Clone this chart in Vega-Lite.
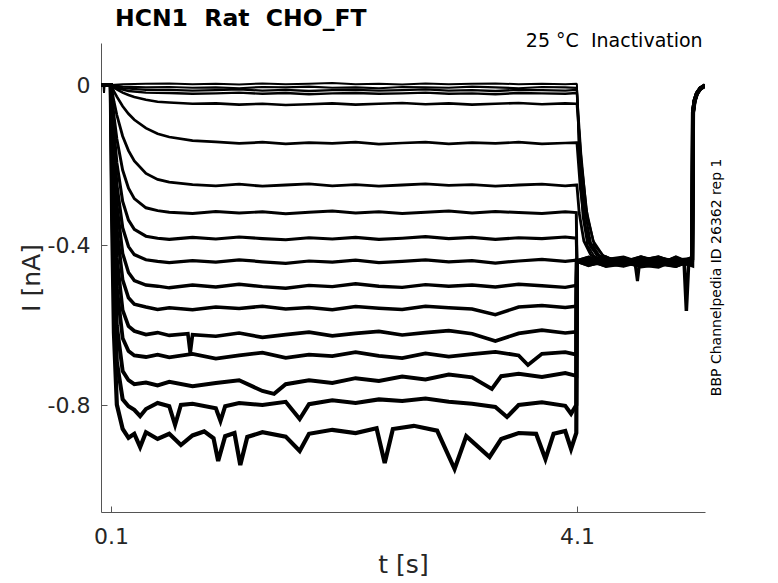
{
  "$schema": "https://vega.github.io/schema/vega-lite/v6.json",
  "width": 604,
  "height": 469,
  "autosize": {"type": "none"},
  "padding": {"left": 101, "top": 43, "right": 73, "bottom": 71},
  "background": "white",
  "config": {"view": {"stroke": null}, "font": "DejaVu Sans"},
  "title": {
    "text": "HCN1\u00a0\u00a0Rat\u00a0\u00a0CHO_FT",
    "anchor": "start",
    "frame": "group",
    "dx": 14,
    "offset": 2,
    "fontSize": 23.5,
    "fontWeight": "bold",
    "font": "DejaVu Sans",
    "color": "black"
  },
  "layer": [
    {
      "data": {"values": [
        {"k":1,"t":0.014,"i":0},{"k":1,"t":0.035,"i":0},{"k":1,"t":0.04,"i":-0.02},{"k":1,"t":0.045,"i":0},{"k":1,"t":0.098,"i":0},{"k":1,"t":0.2,"i":0.002},{"k":1,"t":0.4,"i":0.003},
        {"k":1,"t":0.6,"i":0.004},{"k":1,"t":0.8,"i":0.002},{"k":1,"t":1.0,"i":0.003},{"k":1,"t":1.2,"i":0.001},{"k":1,"t":1.4,"i":0.004},{"k":1,"t":1.6,"i":0.002},{"k":1,"t":1.8,"i":0.003},{"k":1,"t":2.0,"i":0.005},{"k":1,"t":2.2,"i":0.002},{"k":1,"t":2.4,"i":0.003},{"k":1,"t":2.6,"i":0.001},{"k":1,"t":2.8,"i":0.004},{"k":1,"t":3.0,"i":0.002},{"k":1,"t":3.2,"i":0.003},{"k":1,"t":3.4,"i":0.004},{"k":1,"t":3.6,"i":0.002},{"k":1,"t":3.8,"i":0.003},{"k":1,"t":4.0,"i":0.002},{"k":1,"t":4.095,"i":0.003},
        {"k":1,"t":4.1,"i":0.002},{"k":1,"t":4.12,"i":-0.2},{"k":1,"t":4.15,"i":-0.33},{"k":1,"t":4.19,"i":-0.4},{"k":1,"t":4.25,"i":-0.428},{"k":1,"t":4.35,"i":-0.441},{"k":1,"t":4.5,"i":-0.433},{"k":1,"t":4.65,"i":-0.449},{"k":1,"t":4.8,"i":-0.436},{"k":1,"t":4.95,"i":-0.446},{"k":1,"t":5.09,"i":-0.435},{"k":1,"t":5.097,"i":-0.068},{"k":1,"t":5.11,"i":-0.04},{"k":1,"t":5.13,"i":-0.022},{"k":1,"t":5.16,"i":-0.009},{"k":1,"t":5.2,"i":-0.002},

        {"k":2,"t":0.014,"i":0},{"k":2,"t":0.098,"i":0},{"k":2,"t":0.2,"i":-0.004},{"k":2,"t":0.4,"i":-0.006},
        {"k":2,"t":0.6,"i":-0.005},{"k":2,"t":0.8,"i":-0.007},{"k":2,"t":1.0,"i":-0.006},{"k":2,"t":1.2,"i":-0.008},{"k":2,"t":1.4,"i":-0.005},{"k":2,"t":1.6,"i":-0.006},{"k":2,"t":1.8,"i":-0.004},{"k":2,"t":2.0,"i":-0.007},{"k":2,"t":2.2,"i":-0.006},{"k":2,"t":2.4,"i":-0.008},{"k":2,"t":2.6,"i":-0.005},{"k":2,"t":2.8,"i":-0.006},{"k":2,"t":3.0,"i":-0.007},{"k":2,"t":3.2,"i":-0.004},{"k":2,"t":3.4,"i":-0.006},{"k":2,"t":3.6,"i":-0.008},{"k":2,"t":3.8,"i":-0.005},{"k":2,"t":4.0,"i":-0.006},{"k":2,"t":4.095,"i":-0.007},
        {"k":2,"t":4.1,"i":-0.006},{"k":2,"t":4.125,"i":-0.19},{"k":2,"t":4.16,"i":-0.33},{"k":2,"t":4.2,"i":-0.395},{"k":2,"t":4.27,"i":-0.426},{"k":2,"t":4.37,"i":-0.437},{"k":2,"t":4.5,"i":-0.447},{"k":2,"t":4.65,"i":-0.433},{"k":2,"t":4.8,"i":-0.448},{"k":2,"t":4.95,"i":-0.434},{"k":2,"t":5.09,"i":-0.445},{"k":2,"t":5.097,"i":-0.065},{"k":2,"t":5.11,"i":-0.038},{"k":2,"t":5.13,"i":-0.021},{"k":2,"t":5.16,"i":-0.008},{"k":2,"t":5.2,"i":0.0},

        {"k":3,"t":0.014,"i":0},{"k":3,"t":0.098,"i":0},{"k":3,"t":0.2,"i":-0.008},{"k":3,"t":0.4,"i":-0.012},
        {"k":3,"t":0.6,"i":-0.012},{"k":3,"t":0.8,"i":-0.014},{"k":3,"t":1.0,"i":-0.013},{"k":3,"t":1.2,"i":-0.011},{"k":3,"t":1.4,"i":-0.014},{"k":3,"t":1.6,"i":-0.012},{"k":3,"t":1.8,"i":-0.015},{"k":3,"t":2.0,"i":-0.013},{"k":3,"t":2.2,"i":-0.012},{"k":3,"t":2.4,"i":-0.014},{"k":3,"t":2.6,"i":-0.013},{"k":3,"t":2.8,"i":-0.011},{"k":3,"t":3.0,"i":-0.014},{"k":3,"t":3.2,"i":-0.013},{"k":3,"t":3.4,"i":-0.015},{"k":3,"t":3.6,"i":-0.012},{"k":3,"t":3.8,"i":-0.013},{"k":3,"t":4.0,"i":-0.014},{"k":3,"t":4.095,"i":-0.012},
        {"k":3,"t":4.1,"i":-0.013},{"k":3,"t":4.13,"i":-0.18},{"k":3,"t":4.17,"i":-0.32},{"k":3,"t":4.22,"i":-0.395},{"k":3,"t":4.29,"i":-0.425},{"k":3,"t":4.4,"i":-0.443},{"k":3,"t":4.5,"i":-0.437},{"k":3,"t":4.65,"i":-0.452},{"k":3,"t":4.8,"i":-0.431},{"k":3,"t":4.95,"i":-0.45},{"k":3,"t":5.09,"i":-0.44},{"k":3,"t":5.097,"i":-0.07},{"k":3,"t":5.11,"i":-0.042},{"k":3,"t":5.13,"i":-0.023},{"k":3,"t":5.16,"i":-0.01},{"k":3,"t":5.2,"i":-0.003},

        {"k":4,"t":0.014,"i":0},{"k":4,"t":0.098,"i":0},{"k":4,"t":0.15,"i":-0.008},{"k":4,"t":0.25,"i":-0.015},{"k":4,"t":0.4,"i":-0.019},
        {"k":4,"t":0.6,"i":-0.02},{"k":4,"t":0.8,"i":-0.022},{"k":4,"t":1.0,"i":-0.021},{"k":4,"t":1.2,"i":-0.019},{"k":4,"t":1.4,"i":-0.022},{"k":4,"t":1.6,"i":-0.02},{"k":4,"t":1.8,"i":-0.023},{"k":4,"t":2.0,"i":-0.021},{"k":4,"t":2.2,"i":-0.02},{"k":4,"t":2.4,"i":-0.022},{"k":4,"t":2.6,"i":-0.021},{"k":4,"t":2.8,"i":-0.019},{"k":4,"t":3.0,"i":-0.022},{"k":4,"t":3.2,"i":-0.021},{"k":4,"t":3.4,"i":-0.023},{"k":4,"t":3.6,"i":-0.02},{"k":4,"t":3.8,"i":-0.021},{"k":4,"t":4.0,"i":-0.022},{"k":4,"t":4.095,"i":-0.02},
        {"k":4,"t":4.1,"i":-0.021},{"k":4,"t":4.135,"i":-0.17},{"k":4,"t":4.18,"i":-0.31},{"k":4,"t":4.24,"i":-0.39},{"k":4,"t":4.32,"i":-0.425},{"k":4,"t":4.42,"i":-0.44},{"k":4,"t":4.5,"i":-0.45},{"k":4,"t":4.65,"i":-0.435},{"k":4,"t":4.8,"i":-0.447},{"k":4,"t":4.95,"i":-0.43},{"k":4,"t":5.09,"i":-0.448},{"k":4,"t":5.097,"i":-0.066},{"k":4,"t":5.11,"i":-0.039},{"k":4,"t":5.13,"i":-0.02},{"k":4,"t":5.16,"i":-0.007},{"k":4,"t":5.2,"i":-0.001},

        {"k":5,"t":0.014,"i":0},{"k":5,"t":0.098,"i":0},{"k":5,"t":0.125,"i":-0.006},{"k":5,"t":0.15,"i":-0.011},{"k":5,"t":0.2,"i":-0.019},{"k":5,"t":0.25,"i":-0.025},{"k":5,"t":0.3,"i":-0.03},{"k":5,"t":0.4,"i":-0.037},{"k":5,"t":0.5,"i":-0.042},
        {"k":5,"t":0.6,"i":-0.044},{"k":5,"t":0.8,"i":-0.047},{"k":5,"t":1.0,"i":-0.046},{"k":5,"t":1.2,"i":-0.049},{"k":5,"t":1.4,"i":-0.047},{"k":5,"t":1.6,"i":-0.05},{"k":5,"t":1.8,"i":-0.048},{"k":5,"t":2.0,"i":-0.046},{"k":5,"t":2.2,"i":-0.049},{"k":5,"t":2.4,"i":-0.047},{"k":5,"t":2.6,"i":-0.045},{"k":5,"t":2.8,"i":-0.048},{"k":5,"t":3.0,"i":-0.046},{"k":5,"t":3.2,"i":-0.049},{"k":5,"t":3.4,"i":-0.047},{"k":5,"t":3.6,"i":-0.045},{"k":5,"t":3.8,"i":-0.048},{"k":5,"t":4.0,"i":-0.046},{"k":5,"t":4.095,"i":-0.047},
        {"k":5,"t":4.1,"i":-0.047},{"k":5,"t":4.14,"i":-0.2},{"k":5,"t":4.19,"i":-0.33},{"k":5,"t":4.25,"i":-0.4},{"k":5,"t":4.33,"i":-0.428},{"k":5,"t":4.45,"i":-0.44},{"k":5,"t":4.5,"i":-0.431},{"k":5,"t":4.65,"i":-0.446},{"k":5,"t":4.8,"i":-0.452},{"k":5,"t":4.95,"i":-0.437},{"k":5,"t":5.09,"i":-0.433},{"k":5,"t":5.097,"i":-0.069},{"k":5,"t":5.11,"i":-0.041},{"k":5,"t":5.13,"i":-0.022},{"k":5,"t":5.16,"i":-0.009},{"k":5,"t":5.2,"i":-0.002},

        {"k":6,"t":0.014,"i":0},{"k":6,"t":0.098,"i":0},{"k":6,"t":0.11,"i":-0.006},{"k":6,"t":0.125,"i":-0.016},{"k":6,"t":0.15,"i":-0.029},{"k":6,"t":0.2,"i":-0.053},{"k":6,"t":0.25,"i":-0.072},{"k":6,"t":0.3,"i":-0.087},{"k":6,"t":0.4,"i":-0.108},{"k":6,"t":0.5,"i":-0.122},
        {"k":6,"t":0.6,"i":-0.13},{"k":6,"t":0.8,"i":-0.139},{"k":6,"t":1.0,"i":-0.142},{"k":6,"t":1.2,"i":-0.146},{"k":6,"t":1.4,"i":-0.143},{"k":6,"t":1.6,"i":-0.147},{"k":6,"t":1.8,"i":-0.144},{"k":6,"t":2.0,"i":-0.146},{"k":6,"t":2.2,"i":-0.143},{"k":6,"t":2.4,"i":-0.148},{"k":6,"t":2.6,"i":-0.145},{"k":6,"t":2.8,"i":-0.143},{"k":6,"t":3.0,"i":-0.147},{"k":6,"t":3.2,"i":-0.144},{"k":6,"t":3.4,"i":-0.146},{"k":6,"t":3.6,"i":-0.143},{"k":6,"t":3.8,"i":-0.147},{"k":6,"t":4.0,"i":-0.145},{"k":6,"t":4.095,"i":-0.144},
        {"k":6,"t":4.1,"i":-0.144},{"k":6,"t":4.13,"i":-0.26},{"k":6,"t":4.17,"i":-0.35},{"k":6,"t":4.22,"i":-0.405},{"k":6,"t":4.3,"i":-0.43},{"k":6,"t":4.4,"i":-0.445},{"k":6,"t":4.5,"i":-0.444},{"k":6,"t":4.65,"i":-0.429},{"k":6,"t":4.8,"i":-0.44},{"k":6,"t":4.95,"i":-0.453},{"k":6,"t":5.09,"i":-0.441},{"k":6,"t":5.097,"i":-0.067},{"k":6,"t":5.11,"i":-0.04},{"k":6,"t":5.13,"i":-0.021},{"k":6,"t":5.16,"i":-0.008},{"k":6,"t":5.2,"i":-0.001},

        {"k":7,"t":0.014,"i":0},{"k":7,"t":0.098,"i":0},{"k":7,"t":0.11,"i":-0.017},{"k":7,"t":0.125,"i":-0.041},{"k":7,"t":0.15,"i":-0.075},{"k":7,"t":0.2,"i":-0.128},{"k":7,"t":0.25,"i":-0.164},{"k":7,"t":0.3,"i":-0.19},{"k":7,"t":0.4,"i":-0.221},{"k":7,"t":0.5,"i":-0.236},
        {"k":7,"t":0.6,"i":-0.243},{"k":7,"t":0.8,"i":-0.249},{"k":7,"t":1.0,"i":-0.252},{"k":7,"t":1.2,"i":-0.248},{"k":7,"t":1.4,"i":-0.253},{"k":7,"t":1.6,"i":-0.25},{"k":7,"t":1.8,"i":-0.247},{"k":7,"t":2.0,"i":-0.252},{"k":7,"t":2.2,"i":-0.249},{"k":7,"t":2.4,"i":-0.253},{"k":7,"t":2.6,"i":-0.25},{"k":7,"t":2.8,"i":-0.247},{"k":7,"t":3.0,"i":-0.251},{"k":7,"t":3.2,"i":-0.249},{"k":7,"t":3.4,"i":-0.253},{"k":7,"t":3.6,"i":-0.25},{"k":7,"t":3.8,"i":-0.248},{"k":7,"t":4.0,"i":-0.252},{"k":7,"t":4.095,"i":-0.25},
        {"k":7,"t":4.1,"i":-0.25},{"k":7,"t":4.12,"i":-0.32},{"k":7,"t":4.16,"i":-0.39},{"k":7,"t":4.22,"i":-0.425},{"k":7,"t":4.3,"i":-0.437},{"k":7,"t":4.4,"i":-0.441},{"k":7,"t":4.5,"i":-0.451},{"k":7,"t":4.65,"i":-0.438},{"k":7,"t":4.8,"i":-0.43},{"k":7,"t":4.95,"i":-0.445},{"k":7,"t":5.09,"i":-0.45},{"k":7,"t":5.097,"i":-0.066},{"k":7,"t":5.11,"i":-0.039},{"k":7,"t":5.13,"i":-0.021},{"k":7,"t":5.16,"i":-0.008},{"k":7,"t":5.2,"i":0.0},

        {"k":8,"t":0.014,"i":0},{"k":8,"t":0.098,"i":0},{"k":8,"t":0.11,"i":-0.033},{"k":8,"t":0.125,"i":-0.077},{"k":8,"t":0.15,"i":-0.135},{"k":8,"t":0.2,"i":-0.213},{"k":8,"t":0.25,"i":-0.258},{"k":8,"t":0.3,"i":-0.284},{"k":8,"t":0.4,"i":-0.307},{"k":8,"t":0.5,"i":-0.314},
        {"k":8,"t":0.6,"i":-0.318},{"k":8,"t":0.8,"i":-0.321},{"k":8,"t":1.0,"i":-0.316},{"k":8,"t":1.2,"i":-0.32},{"k":8,"t":1.4,"i":-0.317},{"k":8,"t":1.6,"i":-0.322},{"k":8,"t":1.8,"i":-0.318},{"k":8,"t":2.0,"i":-0.315},{"k":8,"t":2.2,"i":-0.32},{"k":8,"t":2.4,"i":-0.317},{"k":8,"t":2.6,"i":-0.321},{"k":8,"t":2.8,"i":-0.318},{"k":8,"t":3.0,"i":-0.315},{"k":8,"t":3.2,"i":-0.32},{"k":8,"t":3.4,"i":-0.316},{"k":8,"t":3.6,"i":-0.319},{"k":8,"t":3.8,"i":-0.321},{"k":8,"t":4.0,"i":-0.317},{"k":8,"t":4.095,"i":-0.319},
        {"k":8,"t":4.1,"i":-0.44},{"k":8,"t":4.2,"i":-0.448},{"k":8,"t":4.35,"i":-0.433},{"k":8,"t":4.5,"i":-0.446},{"k":8,"t":4.65,"i":-0.452},{"k":8,"t":4.8,"i":-0.435},{"k":8,"t":4.95,"i":-0.447},{"k":8,"t":5.09,"i":-0.432},{"k":8,"t":5.097,"i":-0.068},{"k":8,"t":5.11,"i":-0.04},{"k":8,"t":5.13,"i":-0.022},{"k":8,"t":5.16,"i":-0.009},{"k":8,"t":5.2,"i":-0.002},

        {"k":9,"t":0.014,"i":0},{"k":9,"t":0.098,"i":0},{"k":9,"t":0.11,"i":-0.051},{"k":9,"t":0.125,"i":-0.115},{"k":9,"t":0.15,"i":-0.195},{"k":9,"t":0.2,"i":-0.291},{"k":9,"t":0.25,"i":-0.338},{"k":9,"t":0.3,"i":-0.361},{"k":9,"t":0.4,"i":-0.378},{"k":9,"t":0.5,"i":-0.383},
        {"k":9,"t":0.6,"i":-0.386},{"k":9,"t":0.8,"i":-0.381},{"k":9,"t":1.0,"i":-0.385},{"k":9,"t":1.2,"i":-0.38},{"k":9,"t":1.4,"i":-0.384},{"k":9,"t":1.6,"i":-0.387},{"k":9,"t":1.8,"i":-0.382},{"k":9,"t":2.0,"i":-0.385},{"k":9,"t":2.2,"i":-0.381},{"k":9,"t":2.4,"i":-0.386},{"k":9,"t":2.6,"i":-0.383},{"k":9,"t":2.8,"i":-0.379},{"k":9,"t":3.0,"i":-0.384},{"k":9,"t":3.2,"i":-0.381},{"k":9,"t":3.4,"i":-0.386},{"k":9,"t":3.6,"i":-0.382},{"k":9,"t":3.8,"i":-0.384},{"k":9,"t":4.0,"i":-0.38},{"k":9,"t":4.095,"i":-0.383},
        {"k":9,"t":4.1,"i":-0.44},{"k":9,"t":4.2,"i":-0.435},{"k":9,"t":4.35,"i":-0.45},{"k":9,"t":4.5,"i":-0.434},{"k":9,"t":4.6,"i":-0.447},{"k":9,"t":4.62,"i":-0.49},{"k":9,"t":4.64,"i":-0.44},{"k":9,"t":4.8,"i":-0.449},{"k":9,"t":4.95,"i":-0.43},{"k":9,"t":5.09,"i":-0.447},{"k":9,"t":5.097,"i":-0.065},{"k":9,"t":5.11,"i":-0.038},{"k":9,"t":5.13,"i":-0.02},{"k":9,"t":5.16,"i":-0.008},{"k":9,"t":5.2,"i":-0.001},

        {"k":10,"t":0.014,"i":0},{"k":10,"t":0.098,"i":0},{"k":10,"t":0.11,"i":-0.068},{"k":10,"t":0.125,"i":-0.15},{"k":10,"t":0.15,"i":-0.249},{"k":10,"t":0.2,"i":-0.357},{"k":10,"t":0.25,"i":-0.404},{"k":10,"t":0.3,"i":-0.424},{"k":10,"t":0.4,"i":-0.437},{"k":10,"t":0.5,"i":-0.441},
        {"k":10,"t":0.6,"i":-0.444},{"k":10,"t":0.8,"i":-0.439},{"k":10,"t":1.0,"i":-0.443},{"k":10,"t":1.2,"i":-0.437},{"k":10,"t":1.4,"i":-0.442},{"k":10,"t":1.6,"i":-0.446},{"k":10,"t":1.8,"i":-0.44},{"k":10,"t":2.0,"i":-0.443},{"k":10,"t":2.2,"i":-0.438},{"k":10,"t":2.4,"i":-0.444},{"k":10,"t":2.6,"i":-0.441},{"k":10,"t":2.8,"i":-0.437},{"k":10,"t":3.0,"i":-0.442},{"k":10,"t":3.2,"i":-0.439},{"k":10,"t":3.4,"i":-0.445},{"k":10,"t":3.6,"i":-0.44},{"k":10,"t":3.8,"i":-0.436},{"k":10,"t":4.0,"i":-0.441},{"k":10,"t":4.095,"i":-0.438},
        {"k":10,"t":4.1,"i":-0.44},{"k":10,"t":4.2,"i":-0.445},{"k":10,"t":4.35,"i":-0.43},{"k":10,"t":4.5,"i":-0.451},{"k":10,"t":4.65,"i":-0.436},{"k":10,"t":4.8,"i":-0.445},{"k":10,"t":4.95,"i":-0.453},{"k":10,"t":5.09,"i":-0.437},{"k":10,"t":5.097,"i":-0.07},{"k":10,"t":5.11,"i":-0.041},{"k":10,"t":5.13,"i":-0.023},{"k":10,"t":5.16,"i":-0.01},{"k":10,"t":5.2,"i":-0.002},

        {"k":11,"t":0.014,"i":0},{"k":11,"t":0.098,"i":0},{"k":11,"t":0.11,"i":-0.083},{"k":11,"t":0.125,"i":-0.183},{"k":11,"t":0.15,"i":-0.3},{"k":11,"t":0.2,"i":-0.421},{"k":11,"t":0.25,"i":-0.469},{"k":11,"t":0.3,"i":-0.489},{"k":11,"t":0.4,"i":-0.5},{"k":11,"t":0.5,"i":-0.503},
        {"k":11,"t":0.6,"i":-0.507},{"k":11,"t":0.8,"i":-0.5},{"k":11,"t":1.0,"i":-0.505},{"k":11,"t":1.2,"i":-0.498},{"k":11,"t":1.4,"i":-0.504},{"k":11,"t":1.6,"i":-0.508},{"k":11,"t":1.8,"i":-0.501},{"k":11,"t":2.0,"i":-0.504},{"k":11,"t":2.2,"i":-0.497},{"k":11,"t":2.4,"i":-0.503},{"k":11,"t":2.6,"i":-0.506},{"k":11,"t":2.8,"i":-0.499},{"k":11,"t":3.0,"i":-0.503},{"k":11,"t":3.2,"i":-0.5},{"k":11,"t":3.4,"i":-0.505},{"k":11,"t":3.6,"i":-0.498},{"k":11,"t":3.8,"i":-0.502},{"k":11,"t":4.0,"i":-0.506},{"k":11,"t":4.095,"i":-0.501},
        {"k":11,"t":4.1,"i":-0.44},{"k":11,"t":4.2,"i":-0.431},{"k":11,"t":4.35,"i":-0.447},{"k":11,"t":4.5,"i":-0.44},{"k":11,"t":4.65,"i":-0.448},{"k":11,"t":4.8,"i":-0.432},{"k":11,"t":4.95,"i":-0.441},{"k":11,"t":5.09,"i":-0.45},{"k":11,"t":5.097,"i":-0.067},{"k":11,"t":5.11,"i":-0.039},{"k":11,"t":5.13,"i":-0.021},{"k":11,"t":5.16,"i":-0.008},{"k":11,"t":5.2,"i":-0.001},

        {"k":12,"t":0.014,"i":0},{"k":12,"t":0.098,"i":0},{"k":12,"t":0.11,"i":-0.104},{"k":12,"t":0.125,"i":-0.226},{"k":12,"t":0.15,"i":-0.36},{"k":12,"t":0.2,"i":-0.487},{"k":12,"t":0.25,"i":-0.532},{"k":12,"t":0.3,"i":-0.548},{"k":12,"t":0.4,"i":-0.555},{"k":12,"t":0.5,"i":-0.561},
        {"k":12,"t":0.6,"i":-0.557},{"k":12,"t":0.8,"i":-0.562},{"k":12,"t":1.0,"i":-0.555},{"k":12,"t":1.2,"i":-0.559},{"k":12,"t":1.4,"i":-0.553},{"k":12,"t":1.6,"i":-0.56},{"k":12,"t":1.8,"i":-0.556},{"k":12,"t":2.0,"i":-0.562},{"k":12,"t":2.2,"i":-0.554},{"k":12,"t":2.4,"i":-0.558},{"k":12,"t":2.6,"i":-0.561},{"k":12,"t":2.8,"i":-0.553},{"k":12,"t":3.0,"i":-0.557},{"k":12,"t":3.2,"i":-0.56},{"k":12,"t":3.4,"i":-0.574},{"k":12,"t":3.6,"i":-0.555},{"k":12,"t":3.8,"i":-0.551},{"k":12,"t":4.0,"i":-0.556},{"k":12,"t":4.095,"i":-0.553},
        {"k":12,"t":4.1,"i":-0.44},{"k":12,"t":4.2,"i":-0.451},{"k":12,"t":4.35,"i":-0.437},{"k":12,"t":4.5,"i":-0.431},{"k":12,"t":4.65,"i":-0.445},{"k":12,"t":4.8,"i":-0.452},{"k":12,"t":4.95,"i":-0.435},{"k":12,"t":5.02,"i":-0.44},{"k":12,"t":5.04,"i":-0.565},{"k":12,"t":5.06,"i":-0.442},{"k":12,"t":5.09,"i":-0.44},{"k":12,"t":5.097,"i":-0.066},{"k":12,"t":5.11,"i":-0.04},{"k":12,"t":5.13,"i":-0.022},{"k":12,"t":5.16,"i":-0.009},{"k":12,"t":5.2,"i":-0.002},

        {"k":13,"t":0.014,"i":0},{"k":13,"t":0.098,"i":0},{"k":13,"t":0.11,"i":-0.131},{"k":13,"t":0.125,"i":-0.278},{"k":13,"t":0.15,"i":-0.431},{"k":13,"t":0.2,"i":-0.563},{"k":13,"t":0.25,"i":-0.603},{"k":13,"t":0.3,"i":-0.615},{"k":13,"t":0.4,"i":-0.624},{"k":13,"t":0.5,"i":-0.619},
        {"k":13,"t":0.6,"i":-0.626},{"k":13,"t":0.76,"i":-0.622},{"k":13,"t":0.78,"i":-0.67},{"k":13,"t":0.8,"i":-0.624},{"k":13,"t":1.0,"i":-0.628},{"k":13,"t":1.2,"i":-0.62},{"k":13,"t":1.4,"i":-0.631},{"k":13,"t":1.6,"i":-0.624},{"k":13,"t":1.8,"i":-0.618},{"k":13,"t":2.0,"i":-0.627},{"k":13,"t":2.2,"i":-0.621},{"k":13,"t":2.4,"i":-0.616},{"k":13,"t":2.6,"i":-0.625},{"k":13,"t":2.8,"i":-0.619},{"k":13,"t":3.0,"i":-0.614},{"k":13,"t":3.2,"i":-0.622},{"k":13,"t":3.4,"i":-0.64},{"k":13,"t":3.6,"i":-0.621},{"k":13,"t":3.8,"i":-0.613},{"k":13,"t":4.0,"i":-0.62},{"k":13,"t":4.095,"i":-0.617},
        {"k":13,"t":4.1,"i":-0.44},{"k":13,"t":4.2,"i":-0.436},{"k":13,"t":4.35,"i":-0.453},{"k":13,"t":4.5,"i":-0.447},{"k":13,"t":4.65,"i":-0.432},{"k":13,"t":4.8,"i":-0.441},{"k":13,"t":4.95,"i":-0.449},{"k":13,"t":5.09,"i":-0.431},{"k":13,"t":5.097,"i":-0.069},{"k":13,"t":5.11,"i":-0.041},{"k":13,"t":5.13,"i":-0.022},{"k":13,"t":5.16,"i":-0.009},{"k":13,"t":5.2,"i":-0.002},

        {"k":14,"t":0.014,"i":0},{"k":14,"t":0.098,"i":0},{"k":14,"t":0.11,"i":-0.164},{"k":14,"t":0.125,"i":-0.337},{"k":14,"t":0.15,"i":-0.507},{"k":14,"t":0.2,"i":-0.633},{"k":14,"t":0.25,"i":-0.665},{"k":14,"t":0.3,"i":-0.676},{"k":14,"t":0.4,"i":-0.68},{"k":14,"t":0.5,"i":-0.674},
        {"k":14,"t":0.6,"i":-0.681},{"k":14,"t":0.8,"i":-0.672},{"k":14,"t":1.0,"i":-0.684},{"k":14,"t":1.2,"i":-0.676},{"k":14,"t":1.4,"i":-0.669},{"k":14,"t":1.6,"i":-0.682},{"k":14,"t":1.8,"i":-0.674},{"k":14,"t":2.0,"i":-0.678},{"k":14,"t":2.2,"i":-0.668},{"k":14,"t":2.4,"i":-0.677},{"k":14,"t":2.6,"i":-0.683},{"k":14,"t":2.8,"i":-0.671},{"k":14,"t":3.0,"i":-0.679},{"k":14,"t":3.2,"i":-0.673},{"k":14,"t":3.4,"i":-0.667},{"k":14,"t":3.6,"i":-0.676},{"k":14,"t":3.68,"i":-0.7},{"k":14,"t":3.8,"i":-0.672},{"k":14,"t":4.0,"i":-0.668},{"k":14,"t":4.095,"i":-0.674},
        {"k":14,"t":4.1,"i":-0.44},{"k":14,"t":4.2,"i":-0.447},{"k":14,"t":4.35,"i":-0.434},{"k":14,"t":4.5,"i":-0.441},{"k":14,"t":4.65,"i":-0.454},{"k":14,"t":4.8,"i":-0.448},{"k":14,"t":4.95,"i":-0.433},{"k":14,"t":5.09,"i":-0.449},{"k":14,"t":5.097,"i":-0.066},{"k":14,"t":5.11,"i":-0.038},{"k":14,"t":5.13,"i":-0.02},{"k":14,"t":5.16,"i":-0.008},{"k":14,"t":5.2,"i":0.0},

        {"k":15,"t":0.014,"i":0},{"k":15,"t":0.098,"i":0},{"k":15,"t":0.11,"i":-0.21},{"k":15,"t":0.125,"i":-0.419},{"k":15,"t":0.15,"i":-0.602},{"k":15,"t":0.2,"i":-0.715},{"k":15,"t":0.25,"i":-0.738},{"k":15,"t":0.3,"i":-0.748},{"k":15,"t":0.4,"i":-0.744},{"k":15,"t":0.5,"i":-0.751},
        {"k":15,"t":0.6,"i":-0.742},{"k":15,"t":0.8,"i":-0.753},{"k":15,"t":1.0,"i":-0.745},{"k":15,"t":1.2,"i":-0.738},{"k":15,"t":1.4,"i":-0.765},{"k":15,"t":1.5,"i":-0.772},{"k":15,"t":1.6,"i":-0.748},{"k":15,"t":1.8,"i":-0.738},{"k":15,"t":2.0,"i":-0.745},{"k":15,"t":2.2,"i":-0.733},{"k":15,"t":2.4,"i":-0.74},{"k":15,"t":2.6,"i":-0.729},{"k":15,"t":2.8,"i":-0.736},{"k":15,"t":3.0,"i":-0.724},{"k":15,"t":3.2,"i":-0.731},{"k":15,"t":3.37,"i":-0.76},{"k":15,"t":3.45,"i":-0.728},{"k":15,"t":3.6,"i":-0.722},{"k":15,"t":3.8,"i":-0.73},{"k":15,"t":4.0,"i":-0.72},{"k":15,"t":4.095,"i":-0.727},
        {"k":15,"t":4.1,"i":-0.44},{"k":15,"t":4.2,"i":-0.432},{"k":15,"t":4.35,"i":-0.445},{"k":15,"t":4.5,"i":-0.452},{"k":15,"t":4.65,"i":-0.44},{"k":15,"t":4.8,"i":-0.431},{"k":15,"t":4.95,"i":-0.446},{"k":15,"t":5.09,"i":-0.438},{"k":15,"t":5.097,"i":-0.068},{"k":15,"t":5.11,"i":-0.04},{"k":15,"t":5.13,"i":-0.021},{"k":15,"t":5.16,"i":-0.009},{"k":15,"t":5.2,"i":-0.001},

        {"k":16,"t":0.014,"i":0},{"k":16,"t":0.098,"i":0},{"k":16,"t":0.11,"i":-0.264},{"k":16,"t":0.125,"i":-0.506},{"k":16,"t":0.15,"i":-0.692},{"k":16,"t":0.2,"i":-0.786},{"k":16,"t":0.25,"i":-0.803},{"k":16,"t":0.3,"i":-0.812},{"k":16,"t":0.35,"i":-0.828},{"k":16,"t":0.4,"i":-0.81},{"k":16,"t":0.5,"i":-0.795},
        {"k":16,"t":0.6,"i":-0.803},{"k":16,"t":0.65,"i":-0.85},{"k":16,"t":0.7,"i":-0.8},{"k":16,"t":0.8,"i":-0.797},{"k":16,"t":1.0,"i":-0.808},{"k":16,"t":1.04,"i":-0.84},{"k":16,"t":1.08,"i":-0.803},{"k":16,"t":1.2,"i":-0.795},{"k":16,"t":1.4,"i":-0.8},{"k":16,"t":1.6,"i":-0.792},{"k":16,"t":1.72,"i":-0.835},{"k":16,"t":1.8,"i":-0.798},{"k":16,"t":2.0,"i":-0.788},{"k":16,"t":2.2,"i":-0.795},{"k":16,"t":2.4,"i":-0.786},{"k":16,"t":2.6,"i":-0.79},{"k":16,"t":2.8,"i":-0.784},{"k":16,"t":3.0,"i":-0.792},{"k":16,"t":3.2,"i":-0.797},{"k":16,"t":3.4,"i":-0.805},{"k":16,"t":3.5,"i":-0.83},{"k":16,"t":3.6,"i":-0.8},{"k":16,"t":3.8,"i":-0.793},{"k":16,"t":4.0,"i":-0.802},{"k":16,"t":4.05,"i":-0.822},{"k":16,"t":4.095,"i":-0.8},
        {"k":16,"t":4.1,"i":-0.44},{"k":16,"t":4.2,"i":-0.449},{"k":16,"t":4.35,"i":-0.441},{"k":16,"t":4.5,"i":-0.433},{"k":16,"t":4.65,"i":-0.449},{"k":16,"t":4.8,"i":-0.454},{"k":16,"t":4.95,"i":-0.436},{"k":16,"t":5.09,"i":-0.451},{"k":16,"t":5.097,"i":-0.067},{"k":16,"t":5.11,"i":-0.039},{"k":16,"t":5.13,"i":-0.021},{"k":16,"t":5.16,"i":-0.008},{"k":16,"t":5.2,"i":-0.001},

        {"k":17,"t":0.014,"i":0},{"k":17,"t":0.098,"i":0},{"k":17,"t":0.11,"i":-0.342},{"k":17,"t":0.125,"i":-0.62},{"k":17,"t":0.15,"i":-0.799},{"k":17,"t":0.2,"i":-0.86},{"k":17,"t":0.25,"i":-0.882},{"k":17,"t":0.3,"i":-0.872},{"k":17,"t":0.35,"i":-0.905},{"k":17,"t":0.4,"i":-0.868},{"k":17,"t":0.5,"i":-0.885},
        {"k":17,"t":0.6,"i":-0.872},{"k":17,"t":0.7,"i":-0.9},{"k":17,"t":0.8,"i":-0.876},{"k":17,"t":0.9,"i":-0.866},{"k":17,"t":0.98,"i":-0.883},{"k":17,"t":1.02,"i":-0.94},{"k":17,"t":1.08,"i":-0.878},{"k":17,"t":1.16,"i":-0.87},{"k":17,"t":1.21,"i":-0.95},{"k":17,"t":1.27,"i":-0.88},{"k":17,"t":1.4,"i":-0.868},{"k":17,"t":1.6,"i":-0.879},{"k":17,"t":1.72,"i":-0.915},{"k":17,"t":1.8,"i":-0.872},{"k":17,"t":2.0,"i":-0.862},{"k":17,"t":2.2,"i":-0.87},{"k":17,"t":2.38,"i":-0.858},{"k":17,"t":2.45,"i":-0.945},{"k":17,"t":2.52,"i":-0.86},{"k":17,"t":2.7,"i":-0.852},{"k":17,"t":2.9,"i":-0.864},{"k":17,"t":3.05,"i":-0.96},{"k":17,"t":3.15,"i":-0.878},{"k":17,"t":3.35,"i":-0.93},{"k":17,"t":3.45,"i":-0.885},{"k":17,"t":3.6,"i":-0.87},{"k":17,"t":3.75,"i":-0.872},{"k":17,"t":3.83,"i":-0.935},{"k":17,"t":3.9,"i":-0.872},{"k":17,"t":4.0,"i":-0.865},{"k":17,"t":4.05,"i":-0.91},{"k":17,"t":4.095,"i":-0.87},
        {"k":17,"t":4.1,"i":-0.44},{"k":17,"t":4.2,"i":-0.439},{"k":17,"t":4.35,"i":-0.451},{"k":17,"t":4.5,"i":-0.443},{"k":17,"t":4.65,"i":-0.431},{"k":17,"t":4.8,"i":-0.446},{"k":17,"t":4.95,"i":-0.452},{"k":17,"t":5.09,"i":-0.434},{"k":17,"t":5.097,"i":-0.069},{"k":17,"t":5.11,"i":-0.041},{"k":17,"t":5.13,"i":-0.022},{"k":17,"t":5.16,"i":-0.009},{"k":17,"t":5.2,"i":-0.002}
      ]},
      "mark": {"type": "line", "color": "black", "clip": true},
      "encoding": {
        "x": {
          "field": "t",
          "type": "quantitative",
          "scale": {"domain": [0.014, 5.2], "nice": false, "zero": false},
          "axis": {
            "values": [0.1, 4.1],
            "labelExpr": "format(datum.value, '.1f')",
            "title": "t [s]",
            "grid": false,
            "domainColor": "#555555",
            "tickColor": "#555555",
            "tickSize": -6,
            "labelPadding": 20,
            "labelFont": "DejaVu Sans",
            "labelFontSize": 22,
            "labelColor": "#262626",
            "titleFont": "DejaVu Sans",
            "titleFontSize": 25,
            "titleFontWeight": "normal",
            "titleColor": "#262626",
            "titlePadding": 5
          }
        },
        "y": {
          "field": "i",
          "type": "quantitative",
          "scale": {"domain": [-1.0675, 0.105], "nice": false, "zero": false},
          "axis": {
            "values": [0, -0.4, -0.8],
            "labelExpr": "datum.value == 0 ? '0' : '-' + format(abs(datum.value), '.1f')",
            "title": "I [nA]",
            "grid": false,
            "domainColor": "#555555",
            "tickColor": "#555555",
            "tickSize": -6,
            "labelPadding": 17,
            "labelFont": "DejaVu Sans",
            "labelFontSize": 22,
            "labelColor": "#262626",
            "titleFont": "DejaVu Sans",
            "titleFontSize": 25,
            "titleFontWeight": "normal",
            "titleColor": "#262626",
            "titlePadding": 3
          }
        },
        "detail": {"field": "k", "type": "nominal"},
        "strokeWidth": {
          "field": "k",
          "type": "quantitative",
          "scale": {"domain": [1, 17], "range": [2, 4.2]},
          "legend": null
        }
      }
    },
    {
      "data": {"values": [{}]},
      "mark": {
        "type": "text",
        "text": "25 °C\u00a0 Inactivation",
        "align": "right",
        "baseline": "alphabetic",
        "font": "DejaVu Sans",
        "fontSize": 19,
        "color": "black"
      },
      "encoding": {"x": {"datum": 5.18}, "y": {"datum": 0.095}}
    },
    {
      "data": {"values": [{}]},
      "mark": {
        "type": "text",
        "text": "BBP Channelpedia ID 26362 rep 1",
        "angle": 270,
        "align": "center",
        "baseline": "middle",
        "font": "DejaVu Sans",
        "fontSize": 14,
        "color": "black"
      },
      "encoding": {"x": {"datum": 5.302}, "y": {"datum": -0.481}}
    }
  ]
}
